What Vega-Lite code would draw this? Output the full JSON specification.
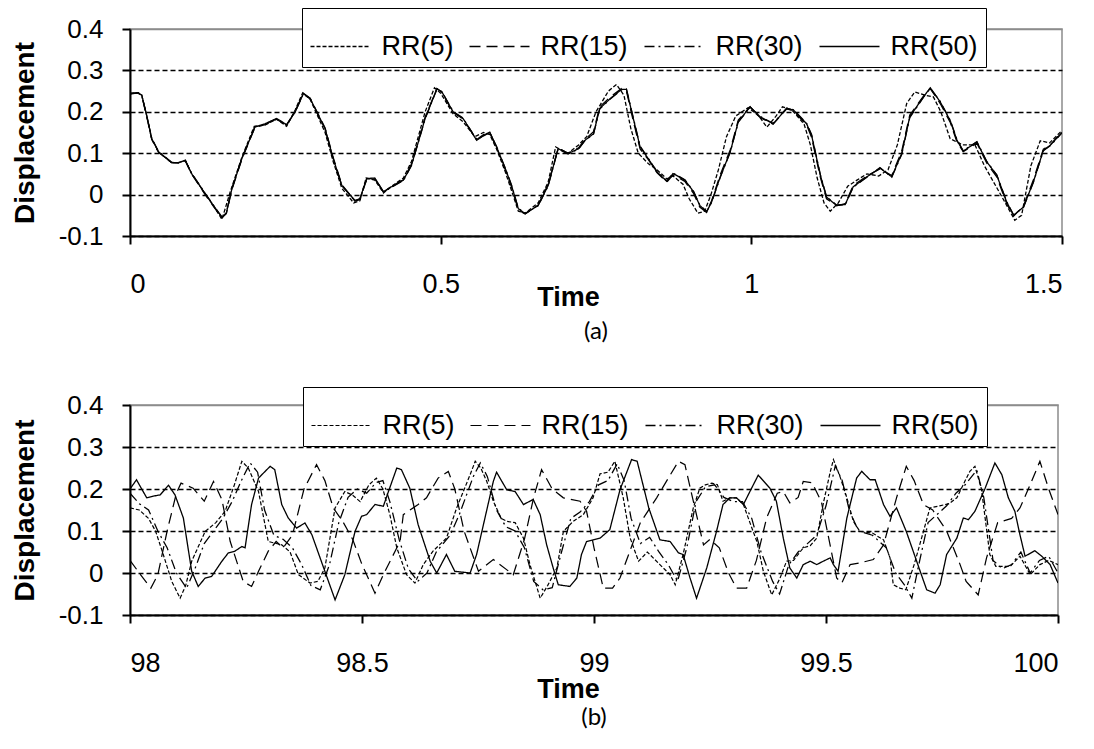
{
"$schema": "https://vega.github.io/schema/vega-lite/v6.json",
"background": "white",
"padding": {"left": 10, "top": 6, "right": 5, "bottom": 5},
"config": {
  "font": "Liberation Sans",
  "view": {"stroke": "#8c8c8c", "strokeWidth": 1.5},
  "axis": {"domainColor": "black", "domainWidth": 2, "tickColor": "black", "tickWidth": 2, "tickSize": 8, "labelColor": "black", "titleColor": "black", "labelFont": "Liberation Sans", "titleFont": "Liberation Sans", "labelFontSize": 26, "titleFontWeight": "bold"},
  "axisX": {"grid": false, "labelPadding": 27, "labelFontSize": 27, "titleFontSize": 27},
  "axisY": {"labelPadding": 19, "titlePadding": 19, "titleFontSize": 28},
  "legend": {"title": null, "direction": "horizontal", "fillColor": "white", "strokeColor": "black", "padding": 7.5, "symbolType": "stroke", "symbolSize": 3600, "symbolStrokeWidth": 1.3, "symbolStrokeColor": "black", "labelFont": "Liberation Sans", "labelFontSize": 27, "labelColor": "black", "labelOffset": 10, "columnPadding": 13},
  "title": {"font": "Lato", "fontSize": 24, "fontWeight": "normal", "color": "black", "anchor": "middle"}
},
"spacing": 40,
"resolve": {"scale": {"strokeDash": "independent", "strokeWidth": "independent"}, "legend": {"strokeDash": "independent"}},
"vconcat": [
{
  "width": 932, "height": 207,
  "title": {"text": "(a)", "orient": "bottom", "offset": 10},
  "mark": {"type": "line", "clip": true, "color": "black"},
  "data": {"values": [
{"s":"RR(5)","t":0,"y":0.244},{"s":"RR(5)","t":0.013,"y":0.246},{"s":"RR(5)","t":0.019,"y":0.24},{"s":"RR(5)","t":0.027,"y":0.19},{"s":"RR(5)","t":0.035,"y":0.135},{"s":"RR(5)","t":0.046,"y":0.103},{"s":"RR(5)","t":0.067,"y":0.077},{"s":"RR(5)","t":0.078,"y":0.077},{"s":"RR(5)","t":0.089,"y":0.083},{"s":"RR(5)","t":0.099,"y":0.051},{"s":"RR(5)","t":0.121,"y":0.002},{"s":"RR(5)","t":0.134,"y":-0.026},{"s":"RR(5)","t":0.148,"y":-0.06},{"s":"RR(5)","t":0.162,"y":0.01},{"s":"RR(5)","t":0.18,"y":0.09},{"s":"RR(5)","t":0.2,"y":0.165},{"s":"RR(5)","t":0.217,"y":0.168},{"s":"RR(5)","t":0.236,"y":0.182},{"s":"RR(5)","t":0.252,"y":0.165},{"s":"RR(5)","t":0.266,"y":0.205},{"s":"RR(5)","t":0.278,"y":0.246},{"s":"RR(5)","t":0.29,"y":0.23},{"s":"RR(5)","t":0.314,"y":0.15},{"s":"RR(5)","t":0.327,"y":0.08},{"s":"RR(5)","t":0.341,"y":0.015},{"s":"RR(5)","t":0.36,"y":-0.02},{"s":"RR(5)","t":0.37,"y":-0.015},{"s":"RR(5)","t":0.38,"y":0.04},{"s":"RR(5)","t":0.394,"y":0.035},{"s":"RR(5)","t":0.408,"y":0.004},{"s":"RR(5)","t":0.421,"y":0.02},{"s":"RR(5)","t":0.44,"y":0.04},{"s":"RR(5)","t":0.453,"y":0.08},{"s":"RR(5)","t":0.464,"y":0.14},{"s":"RR(5)","t":0.475,"y":0.2},{"s":"RR(5)","t":0.49,"y":0.258},{"s":"RR(5)","t":0.5,"y":0.245},{"s":"RR(5)","t":0.52,"y":0.195},{"s":"RR(5)","t":0.536,"y":0.176},{"s":"RR(5)","t":0.555,"y":0.14},{"s":"RR(5)","t":0.569,"y":0.15},{"s":"RR(5)","t":0.579,"y":0.145},{"s":"RR(5)","t":0.59,"y":0.11},{"s":"RR(5)","t":0.604,"y":0.055},{"s":"RR(5)","t":0.614,"y":0.01},{"s":"RR(5)","t":0.625,"y":-0.04},{"s":"RR(5)","t":0.636,"y":-0.045},{"s":"RR(5)","t":0.657,"y":-0.02},{"s":"RR(5)","t":0.673,"y":0.03},{"s":"RR(5)","t":0.685,"y":0.115},{"s":"RR(5)","t":0.705,"y":0.1},{"s":"RR(5)","t":0.722,"y":0.12},{"s":"RR(5)","t":0.735,"y":0.14},{"s":"RR(5)","t":0.75,"y":0.2},{"s":"RR(5)","t":0.77,"y":0.25},{"s":"RR(5)","t":0.783,"y":0.266},{"s":"RR(5)","t":0.795,"y":0.24},{"s":"RR(5)","t":0.806,"y":0.16},{"s":"RR(5)","t":0.818,"y":0.1},{"s":"RR(5)","t":0.834,"y":0.075},{"s":"RR(5)","t":0.848,"y":0.06},{"s":"RR(5)","t":0.864,"y":0.038},{"s":"RR(5)","t":0.874,"y":0.045},{"s":"RR(5)","t":0.89,"y":0.025},{"s":"RR(5)","t":0.9,"y":-0.01},{"s":"RR(5)","t":0.914,"y":-0.045},{"s":"RR(5)","t":0.925,"y":-0.04},{"s":"RR(5)","t":0.935,"y":0.0},{"s":"RR(5)","t":0.947,"y":0.06},{"s":"RR(5)","t":0.96,"y":0.14},{"s":"RR(5)","t":0.975,"y":0.19},{"s":"RR(5)","t":0.995,"y":0.21},{"s":"RR(5)","t":1.012,"y":0.19},{"s":"RR(5)","t":1.025,"y":0.163},{"s":"RR(5)","t":1.04,"y":0.19},{"s":"RR(5)","t":1.05,"y":0.212},{"s":"RR(5)","t":1.065,"y":0.205},{"s":"RR(5)","t":1.085,"y":0.17},{"s":"RR(5)","t":1.095,"y":0.12},{"s":"RR(5)","t":1.106,"y":0.04},{"s":"RR(5)","t":1.117,"y":-0.02},{"s":"RR(5)","t":1.127,"y":-0.04},{"s":"RR(5)","t":1.14,"y":-0.02},{"s":"RR(5)","t":1.155,"y":0.02},{"s":"RR(5)","t":1.17,"y":0.035},{"s":"RR(5)","t":1.186,"y":0.05},{"s":"RR(5)","t":1.205,"y":0.045},{"s":"RR(5)","t":1.22,"y":0.06},{"s":"RR(5)","t":1.235,"y":0.12},{"s":"RR(5)","t":1.25,"y":0.22},{"s":"RR(5)","t":1.263,"y":0.248},{"s":"RR(5)","t":1.28,"y":0.24},{"s":"RR(5)","t":1.293,"y":0.236},{"s":"RR(5)","t":1.305,"y":0.2},{"s":"RR(5)","t":1.32,"y":0.135},{"s":"RR(5)","t":1.34,"y":0.12},{"s":"RR(5)","t":1.36,"y":0.12},{"s":"RR(5)","t":1.375,"y":0.07},{"s":"RR(5)","t":1.39,"y":0.03},{"s":"RR(5)","t":1.405,"y":-0.01},{"s":"RR(5)","t":1.424,"y":-0.062},{"s":"RR(5)","t":1.435,"y":-0.05},{"s":"RR(5)","t":1.45,"y":0.07},{"s":"RR(5)","t":1.465,"y":0.13},{"s":"RR(5)","t":1.48,"y":0.125},{"s":"RR(5)","t":1.5,"y":0.155},
{"s":"RR(15)","t":0,"y":0.243},{"s":"RR(15)","t":0.013,"y":0.246},{"s":"RR(15)","t":0.019,"y":0.238},{"s":"RR(15)","t":0.027,"y":0.188},{"s":"RR(15)","t":0.035,"y":0.133},{"s":"RR(15)","t":0.046,"y":0.102},{"s":"RR(15)","t":0.067,"y":0.077},{"s":"RR(15)","t":0.078,"y":0.076},{"s":"RR(15)","t":0.089,"y":0.082},{"s":"RR(15)","t":0.099,"y":0.05},{"s":"RR(15)","t":0.121,"y":0.0},{"s":"RR(15)","t":0.134,"y":-0.028},{"s":"RR(15)","t":0.148,"y":-0.056},{"s":"RR(15)","t":0.155,"y":-0.046},{"s":"RR(15)","t":0.164,"y":0.012},{"s":"RR(15)","t":0.18,"y":0.085},{"s":"RR(15)","t":0.201,"y":0.162},{"s":"RR(15)","t":0.217,"y":0.169},{"s":"RR(15)","t":0.236,"y":0.182},{"s":"RR(15)","t":0.252,"y":0.167},{"s":"RR(15)","t":0.266,"y":0.202},{"s":"RR(15)","t":0.279,"y":0.245},{"s":"RR(15)","t":0.29,"y":0.233},{"s":"RR(15)","t":0.314,"y":0.161},{"s":"RR(15)","t":0.327,"y":0.09},{"s":"RR(15)","t":0.341,"y":0.024},{"s":"RR(15)","t":0.362,"y":-0.016},{"s":"RR(15)","t":0.37,"y":-0.012},{"s":"RR(15)","t":0.381,"y":0.037},{"s":"RR(15)","t":0.394,"y":0.038},{"s":"RR(15)","t":0.408,"y":0.006},{"s":"RR(15)","t":0.421,"y":0.02},{"s":"RR(15)","t":0.44,"y":0.036},{"s":"RR(15)","t":0.453,"y":0.074},{"s":"RR(15)","t":0.464,"y":0.13},{"s":"RR(15)","t":0.475,"y":0.187},{"s":"RR(15)","t":0.494,"y":0.256},{"s":"RR(15)","t":0.502,"y":0.247},{"s":"RR(15)","t":0.52,"y":0.198},{"s":"RR(15)","t":0.536,"y":0.183},{"s":"RR(15)","t":0.558,"y":0.133},{"s":"RR(15)","t":0.569,"y":0.145},{"s":"RR(15)","t":0.579,"y":0.15},{"s":"RR(15)","t":0.59,"y":0.113},{"s":"RR(15)","t":0.604,"y":0.06},{"s":"RR(15)","t":0.614,"y":0.018},{"s":"RR(15)","t":0.625,"y":-0.037},{"s":"RR(15)","t":0.636,"y":-0.047},{"s":"RR(15)","t":0.657,"y":-0.025},{"s":"RR(15)","t":0.673,"y":0.025},{"s":"RR(15)","t":0.689,"y":0.112},{"s":"RR(15)","t":0.705,"y":0.1},{"s":"RR(15)","t":0.722,"y":0.113},{"s":"RR(15)","t":0.732,"y":0.133},{"s":"RR(15)","t":0.746,"y":0.152},{"s":"RR(15)","t":0.756,"y":0.212},{"s":"RR(15)","t":0.773,"y":0.236},{"s":"RR(15)","t":0.791,"y":0.256},{"s":"RR(15)","t":0.799,"y":0.25},{"s":"RR(15)","t":0.81,"y":0.178},{"s":"RR(15)","t":0.821,"y":0.11},{"s":"RR(15)","t":0.834,"y":0.085},{"s":"RR(15)","t":0.848,"y":0.053},{"s":"RR(15)","t":0.864,"y":0.03},{"s":"RR(15)","t":0.874,"y":0.048},{"s":"RR(15)","t":0.893,"y":0.032},{"s":"RR(15)","t":0.907,"y":0.003},{"s":"RR(15)","t":0.917,"y":-0.03},{"s":"RR(15)","t":0.928,"y":-0.043},{"s":"RR(15)","t":0.936,"y":-0.015},{"s":"RR(15)","t":0.95,"y":0.048},{"s":"RR(15)","t":0.966,"y":0.108},{"s":"RR(15)","t":0.979,"y":0.18},{"s":"RR(15)","t":0.998,"y":0.212},{"s":"RR(15)","t":1.014,"y":0.186},{"s":"RR(15)","t":1.035,"y":0.17},{"s":"RR(15)","t":1.057,"y":0.207},{"s":"RR(15)","t":1.068,"y":0.202},{"s":"RR(15)","t":1.089,"y":0.168},{"s":"RR(15)","t":1.097,"y":0.138},{"s":"RR(15)","t":1.111,"y":0.042},{"s":"RR(15)","t":1.121,"y":-0.01},{"s":"RR(15)","t":1.137,"y":-0.027},{"s":"RR(15)","t":1.151,"y":-0.022},{"s":"RR(15)","t":1.164,"y":0.022},{"s":"RR(15)","t":1.186,"y":0.045},{"s":"RR(15)","t":1.207,"y":0.062},{"s":"RR(15)","t":1.226,"y":0.046},{"s":"RR(15)","t":1.242,"y":0.105},{"s":"RR(15)","t":1.255,"y":0.192},{"s":"RR(15)","t":1.277,"y":0.238},{"s":"RR(15)","t":1.288,"y":0.256},{"s":"RR(15)","t":1.304,"y":0.22},{"s":"RR(15)","t":1.32,"y":0.175},{"s":"RR(15)","t":1.331,"y":0.127},{"s":"RR(15)","t":1.341,"y":0.104},{"s":"RR(15)","t":1.363,"y":0.124},{"s":"RR(15)","t":1.379,"y":0.076},{"s":"RR(15)","t":1.395,"y":0.043},{"s":"RR(15)","t":1.411,"y":-0.022},{"s":"RR(15)","t":1.422,"y":-0.052},{"s":"RR(15)","t":1.438,"y":-0.028},{"s":"RR(15)","t":1.454,"y":0.036},{"s":"RR(15)","t":1.47,"y":0.11},{"s":"RR(15)","t":1.481,"y":0.12},{"s":"RR(15)","t":1.5,"y":0.152},
{"s":"RR(30)","t":0,"y":0.245},{"s":"RR(30)","t":0.013,"y":0.245},{"s":"RR(30)","t":0.019,"y":0.239},{"s":"RR(30)","t":0.027,"y":0.19},{"s":"RR(30)","t":0.035,"y":0.136},{"s":"RR(30)","t":0.046,"y":0.104},{"s":"RR(30)","t":0.067,"y":0.078},{"s":"RR(30)","t":0.078,"y":0.077},{"s":"RR(30)","t":0.089,"y":0.082},{"s":"RR(30)","t":0.099,"y":0.052},{"s":"RR(30)","t":0.121,"y":0.003},{"s":"RR(30)","t":0.134,"y":-0.025},{"s":"RR(30)","t":0.148,"y":-0.055},{"s":"RR(30)","t":0.155,"y":-0.044},{"s":"RR(30)","t":0.164,"y":0.015},{"s":"RR(30)","t":0.18,"y":0.088},{"s":"RR(30)","t":0.201,"y":0.164},{"s":"RR(30)","t":0.217,"y":0.17},{"s":"RR(30)","t":0.236,"y":0.183},{"s":"RR(30)","t":0.252,"y":0.168},{"s":"RR(30)","t":0.266,"y":0.201},{"s":"RR(30)","t":0.279,"y":0.243},{"s":"RR(30)","t":0.29,"y":0.231},{"s":"RR(30)","t":0.314,"y":0.158},{"s":"RR(30)","t":0.327,"y":0.086},{"s":"RR(30)","t":0.341,"y":0.021},{"s":"RR(30)","t":0.362,"y":-0.015},{"s":"RR(30)","t":0.37,"y":-0.011},{"s":"RR(30)","t":0.381,"y":0.038},{"s":"RR(30)","t":0.394,"y":0.039},{"s":"RR(30)","t":0.408,"y":0.006},{"s":"RR(30)","t":0.421,"y":0.018},{"s":"RR(30)","t":0.44,"y":0.034},{"s":"RR(30)","t":0.453,"y":0.07},{"s":"RR(30)","t":0.464,"y":0.126},{"s":"RR(30)","t":0.475,"y":0.183},{"s":"RR(30)","t":0.494,"y":0.255},{"s":"RR(30)","t":0.502,"y":0.249},{"s":"RR(30)","t":0.52,"y":0.201},{"s":"RR(30)","t":0.536,"y":0.185},{"s":"RR(30)","t":0.558,"y":0.132},{"s":"RR(30)","t":0.569,"y":0.142},{"s":"RR(30)","t":0.579,"y":0.15},{"s":"RR(30)","t":0.59,"y":0.116},{"s":"RR(30)","t":0.604,"y":0.064},{"s":"RR(30)","t":0.614,"y":0.023},{"s":"RR(30)","t":0.625,"y":-0.033},{"s":"RR(30)","t":0.636,"y":-0.045},{"s":"RR(30)","t":0.657,"y":-0.027},{"s":"RR(30)","t":0.673,"y":0.021},{"s":"RR(30)","t":0.689,"y":0.11},{"s":"RR(30)","t":0.705,"y":0.098},{"s":"RR(30)","t":0.722,"y":0.11},{"s":"RR(30)","t":0.732,"y":0.13},{"s":"RR(30)","t":0.746,"y":0.146},{"s":"RR(30)","t":0.756,"y":0.207},{"s":"RR(30)","t":0.773,"y":0.231},{"s":"RR(30)","t":0.791,"y":0.253},{"s":"RR(30)","t":0.799,"y":0.255},{"s":"RR(30)","t":0.81,"y":0.186},{"s":"RR(30)","t":0.821,"y":0.117},{"s":"RR(30)","t":0.834,"y":0.088},{"s":"RR(30)","t":0.848,"y":0.056},{"s":"RR(30)","t":0.864,"y":0.033},{"s":"RR(30)","t":0.874,"y":0.052},{"s":"RR(30)","t":0.893,"y":0.036},{"s":"RR(30)","t":0.907,"y":0.008},{"s":"RR(30)","t":0.917,"y":-0.025},{"s":"RR(30)","t":0.928,"y":-0.041},{"s":"RR(30)","t":0.936,"y":-0.019},{"s":"RR(30)","t":0.95,"y":0.042},{"s":"RR(30)","t":0.966,"y":0.102},{"s":"RR(30)","t":0.979,"y":0.175},{"s":"RR(30)","t":0.998,"y":0.211},{"s":"RR(30)","t":1.014,"y":0.189},{"s":"RR(30)","t":1.035,"y":0.172},{"s":"RR(30)","t":1.057,"y":0.209},{"s":"RR(30)","t":1.068,"y":0.205},{"s":"RR(30)","t":1.089,"y":0.172},{"s":"RR(30)","t":1.097,"y":0.145},{"s":"RR(30)","t":1.111,"y":0.049},{"s":"RR(30)","t":1.121,"y":-0.005},{"s":"RR(30)","t":1.137,"y":-0.025},{"s":"RR(30)","t":1.151,"y":-0.025},{"s":"RR(30)","t":1.164,"y":0.018},{"s":"RR(30)","t":1.186,"y":0.042},{"s":"RR(30)","t":1.207,"y":0.065},{"s":"RR(30)","t":1.226,"y":0.042},{"s":"RR(30)","t":1.242,"y":0.097},{"s":"RR(30)","t":1.255,"y":0.186},{"s":"RR(30)","t":1.277,"y":0.235},{"s":"RR(30)","t":1.288,"y":0.257},{"s":"RR(30)","t":1.304,"y":0.225},{"s":"RR(30)","t":1.32,"y":0.18},{"s":"RR(30)","t":1.331,"y":0.133},{"s":"RR(30)","t":1.341,"y":0.106},{"s":"RR(30)","t":1.363,"y":0.128},{"s":"RR(30)","t":1.379,"y":0.08},{"s":"RR(30)","t":1.395,"y":0.048},{"s":"RR(30)","t":1.411,"y":-0.017},{"s":"RR(30)","t":1.422,"y":-0.049},{"s":"RR(30)","t":1.438,"y":-0.031},{"s":"RR(30)","t":1.454,"y":0.03},{"s":"RR(30)","t":1.47,"y":0.106},{"s":"RR(30)","t":1.481,"y":0.118},{"s":"RR(30)","t":1.5,"y":0.149},
{"s":"RR(50)","t":0,"y":0.244},{"s":"RR(50)","t":0.013,"y":0.246},{"s":"RR(50)","t":0.019,"y":0.24},{"s":"RR(50)","t":0.027,"y":0.19},{"s":"RR(50)","t":0.035,"y":0.135},{"s":"RR(50)","t":0.046,"y":0.103},{"s":"RR(50)","t":0.067,"y":0.077},{"s":"RR(50)","t":0.078,"y":0.077},{"s":"RR(50)","t":0.089,"y":0.083},{"s":"RR(50)","t":0.099,"y":0.051},{"s":"RR(50)","t":0.121,"y":0.002},{"s":"RR(50)","t":0.134,"y":-0.026},{"s":"RR(50)","t":0.148,"y":-0.054},{"s":"RR(50)","t":0.155,"y":-0.045},{"s":"RR(50)","t":0.164,"y":0.014},{"s":"RR(50)","t":0.18,"y":0.087},{"s":"RR(50)","t":0.201,"y":0.163},{"s":"RR(50)","t":0.217,"y":0.171},{"s":"RR(50)","t":0.236,"y":0.184},{"s":"RR(50)","t":0.252,"y":0.169},{"s":"RR(50)","t":0.266,"y":0.2},{"s":"RR(50)","t":0.279,"y":0.244},{"s":"RR(50)","t":0.29,"y":0.232},{"s":"RR(50)","t":0.314,"y":0.159},{"s":"RR(50)","t":0.327,"y":0.087},{"s":"RR(50)","t":0.341,"y":0.022},{"s":"RR(50)","t":0.362,"y":-0.014},{"s":"RR(50)","t":0.37,"y":-0.01},{"s":"RR(50)","t":0.381,"y":0.039},{"s":"RR(50)","t":0.394,"y":0.04},{"s":"RR(50)","t":0.408,"y":0.007},{"s":"RR(50)","t":0.421,"y":0.019},{"s":"RR(50)","t":0.44,"y":0.035},{"s":"RR(50)","t":0.453,"y":0.071},{"s":"RR(50)","t":0.464,"y":0.127},{"s":"RR(50)","t":0.475,"y":0.184},{"s":"RR(50)","t":0.494,"y":0.256},{"s":"RR(50)","t":0.502,"y":0.248},{"s":"RR(50)","t":0.52,"y":0.2},{"s":"RR(50)","t":0.536,"y":0.184},{"s":"RR(50)","t":0.558,"y":0.131},{"s":"RR(50)","t":0.569,"y":0.143},{"s":"RR(50)","t":0.579,"y":0.151},{"s":"RR(50)","t":0.59,"y":0.115},{"s":"RR(50)","t":0.604,"y":0.063},{"s":"RR(50)","t":0.614,"y":0.022},{"s":"RR(50)","t":0.625,"y":-0.034},{"s":"RR(50)","t":0.636,"y":-0.046},{"s":"RR(50)","t":0.657,"y":-0.026},{"s":"RR(50)","t":0.673,"y":0.022},{"s":"RR(50)","t":0.689,"y":0.111},{"s":"RR(50)","t":0.705,"y":0.099},{"s":"RR(50)","t":0.722,"y":0.111},{"s":"RR(50)","t":0.732,"y":0.131},{"s":"RR(50)","t":0.746,"y":0.147},{"s":"RR(50)","t":0.756,"y":0.208},{"s":"RR(50)","t":0.773,"y":0.232},{"s":"RR(50)","t":0.791,"y":0.254},{"s":"RR(50)","t":0.799,"y":0.254},{"s":"RR(50)","t":0.81,"y":0.184},{"s":"RR(50)","t":0.821,"y":0.115},{"s":"RR(50)","t":0.834,"y":0.087},{"s":"RR(50)","t":0.848,"y":0.055},{"s":"RR(50)","t":0.864,"y":0.032},{"s":"RR(50)","t":0.874,"y":0.051},{"s":"RR(50)","t":0.893,"y":0.035},{"s":"RR(50)","t":0.907,"y":0.007},{"s":"RR(50)","t":0.917,"y":-0.026},{"s":"RR(50)","t":0.928,"y":-0.042},{"s":"RR(50)","t":0.936,"y":-0.018},{"s":"RR(50)","t":0.95,"y":0.043},{"s":"RR(50)","t":0.966,"y":0.103},{"s":"RR(50)","t":0.979,"y":0.176},{"s":"RR(50)","t":0.998,"y":0.212},{"s":"RR(50)","t":1.014,"y":0.188},{"s":"RR(50)","t":1.035,"y":0.171},{"s":"RR(50)","t":1.057,"y":0.208},{"s":"RR(50)","t":1.068,"y":0.204},{"s":"RR(50)","t":1.089,"y":0.171},{"s":"RR(50)","t":1.097,"y":0.143},{"s":"RR(50)","t":1.111,"y":0.047},{"s":"RR(50)","t":1.121,"y":-0.006},{"s":"RR(50)","t":1.137,"y":-0.026},{"s":"RR(50)","t":1.151,"y":-0.024},{"s":"RR(50)","t":1.164,"y":0.019},{"s":"RR(50)","t":1.186,"y":0.043},{"s":"RR(50)","t":1.207,"y":0.064},{"s":"RR(50)","t":1.226,"y":0.043},{"s":"RR(50)","t":1.242,"y":0.099},{"s":"RR(50)","t":1.255,"y":0.188},{"s":"RR(50)","t":1.277,"y":0.236},{"s":"RR(50)","t":1.288,"y":0.258},{"s":"RR(50)","t":1.304,"y":0.224},{"s":"RR(50)","t":1.32,"y":0.179},{"s":"RR(50)","t":1.331,"y":0.131},{"s":"RR(50)","t":1.341,"y":0.105},{"s":"RR(50)","t":1.363,"y":0.127},{"s":"RR(50)","t":1.379,"y":0.079},{"s":"RR(50)","t":1.395,"y":0.047},{"s":"RR(50)","t":1.411,"y":-0.018},{"s":"RR(50)","t":1.422,"y":-0.05},{"s":"RR(50)","t":1.438,"y":-0.03},{"s":"RR(50)","t":1.454,"y":0.031},{"s":"RR(50)","t":1.47,"y":0.107},{"s":"RR(50)","t":1.481,"y":0.119},{"s":"RR(50)","t":1.5,"y":0.15}
  ]},
  "encoding": {
    "x": {"field": "t", "type": "quantitative", "scale": {"domain": [0, 1.5], "nice": false, "zero": false}, "axis": {"values": [0, 0.5, 1, 1.5], "format": "~g", "title": "Time", "titleX": 438, "titlePadding": -13}},
    "y": {"field": "y", "type": "quantitative", "scale": {"domain": [-0.1, 0.4], "nice": false}, "axis": {"values": [-0.1, 0, 0.1, 0.2, 0.3, 0.4], "labelExpr": "datum.value < 0 ? '-' + format(-datum.value, '~g') : format(datum.value, '~g')", "title": "Displacement", "grid": true, "gridWidth": 1.3, "gridColor": {"condition": {"test": "datum.value > 0.35", "value": "#8c8c8c"}, "value": "black"}, "gridDash": {"condition": {"test": "datum.value > 0.35", "value": [1, 0]}, "value": [5, 3]}}},
    "strokeDash": {"field": "s", "type": "nominal", "scale": {"domain": ["RR(5)", "RR(15)", "RR(30)", "RR(50)"], "range": [[4, 2], [11, 6], [10, 4, 2, 4], [1, 0]]}, "legend": {"orient": "none", "legendX": 172, "legendY": -21}},
    "strokeWidth": {"field": "s", "type": "nominal", "scale": {"domain": ["RR(5)", "RR(15)", "RR(30)", "RR(50)"], "range": [1.3, 1.3, 1.3, 2.4]}, "legend": null}
  }
},
{
  "width": 928, "height": 210,
  "title": {"text": "(b)", "orient": "bottom", "offset": 4},
  "mark": {"type": "line", "clip": true, "color": "black"},
  "data": {"values": [
{"s":"RR(5)","t":98.0,"y":0.155},{"s":"RR(5)","t":98.02,"y":0.15},{"s":"RR(5)","t":98.04,"y":0.13},{"s":"RR(5)","t":98.055,"y":0.1},{"s":"RR(5)","t":98.07,"y":0.05},{"s":"RR(5)","t":98.09,"y":-0.02},{"s":"RR(5)","t":98.108,"y":-0.06},{"s":"RR(5)","t":98.12,"y":-0.03},{"s":"RR(5)","t":98.133,"y":0.028},{"s":"RR(5)","t":98.162,"y":0.099},{"s":"RR(5)","t":98.185,"y":0.12},{"s":"RR(5)","t":98.205,"y":0.147},{"s":"RR(5)","t":98.225,"y":0.21},{"s":"RR(5)","t":98.241,"y":0.266},{"s":"RR(5)","t":98.255,"y":0.25},{"s":"RR(5)","t":98.277,"y":0.194},{"s":"RR(5)","t":98.298,"y":0.075},{"s":"RR(5)","t":98.327,"y":0.067},{"s":"RR(5)","t":98.345,"y":0.05},{"s":"RR(5)","t":98.363,"y":-0.004},{"s":"RR(5)","t":98.388,"y":-0.024},{"s":"RR(5)","t":98.405,"y":-0.02},{"s":"RR(5)","t":98.42,"y":0.012},{"s":"RR(5)","t":98.442,"y":0.155},{"s":"RR(5)","t":98.463,"y":0.194},{"s":"RR(5)","t":98.48,"y":0.185},{"s":"RR(5)","t":98.496,"y":0.17},{"s":"RR(5)","t":98.515,"y":0.21},{"s":"RR(5)","t":98.531,"y":0.226},{"s":"RR(5)","t":98.545,"y":0.2},{"s":"RR(5)","t":98.56,"y":0.139},{"s":"RR(5)","t":98.575,"y":0.06},{"s":"RR(5)","t":98.596,"y":-0.004},{"s":"RR(5)","t":98.614,"y":-0.024},{"s":"RR(5)","t":98.632,"y":0.02},{"s":"RR(5)","t":98.653,"y":0.052},{"s":"RR(5)","t":98.682,"y":0.083},{"s":"RR(5)","t":98.704,"y":0.155},{"s":"RR(5)","t":98.733,"y":0.234},{"s":"RR(5)","t":98.744,"y":0.266},{"s":"RR(5)","t":98.756,"y":0.25},{"s":"RR(5)","t":98.769,"y":0.218},{"s":"RR(5)","t":98.783,"y":0.171},{"s":"RR(5)","t":98.8,"y":0.13},{"s":"RR(5)","t":98.812,"y":0.123},{"s":"RR(5)","t":98.83,"y":0.12},{"s":"RR(5)","t":98.848,"y":0.083},{"s":"RR(5)","t":98.862,"y":0.02},{"s":"RR(5)","t":98.884,"y":-0.06},{"s":"RR(5)","t":98.9,"y":-0.03},{"s":"RR(5)","t":98.92,"y":0.012},{"s":"RR(5)","t":98.934,"y":0.099},{"s":"RR(5)","t":98.955,"y":0.123},{"s":"RR(5)","t":98.977,"y":0.139},{"s":"RR(5)","t":98.998,"y":0.179},{"s":"RR(5)","t":99.013,"y":0.236},{"s":"RR(5)","t":99.03,"y":0.24},{"s":"RR(5)","t":99.045,"y":0.266},{"s":"RR(5)","t":99.063,"y":0.179},{"s":"RR(5)","t":99.078,"y":0.083},{"s":"RR(5)","t":99.096,"y":0.028},{"s":"RR(5)","t":99.115,"y":0.05},{"s":"RR(5)","t":99.142,"y":0.02},{"s":"RR(5)","t":99.164,"y":-0.004},{"s":"RR(5)","t":99.175,"y":-0.028},{"s":"RR(5)","t":99.192,"y":0.044},{"s":"RR(5)","t":99.214,"y":0.155},{"s":"RR(5)","t":99.228,"y":0.202},{"s":"RR(5)","t":99.24,"y":0.21},{"s":"RR(5)","t":99.254,"y":0.214},{"s":"RR(5)","t":99.266,"y":0.21},{"s":"RR(5)","t":99.278,"y":0.171},{"s":"RR(5)","t":99.293,"y":0.179},{"s":"RR(5)","t":99.307,"y":0.179},{"s":"RR(5)","t":99.322,"y":0.163},{"s":"RR(5)","t":99.336,"y":0.12},{"s":"RR(5)","t":99.351,"y":0.075},{"s":"RR(5)","t":99.365,"y":0.004},{"s":"RR(5)","t":99.383,"y":-0.052},{"s":"RR(5)","t":99.401,"y":-0.012},{"s":"RR(5)","t":99.415,"y":0.028},{"s":"RR(5)","t":99.43,"y":0.03},{"s":"RR(5)","t":99.451,"y":0.06},{"s":"RR(5)","t":99.466,"y":0.065},{"s":"RR(5)","t":99.48,"y":0.083},{"s":"RR(5)","t":99.495,"y":0.17},{"s":"RR(5)","t":99.509,"y":0.24},{"s":"RR(5)","t":99.516,"y":0.27},{"s":"RR(5)","t":99.53,"y":0.23},{"s":"RR(5)","t":99.545,"y":0.179},{"s":"RR(5)","t":99.559,"y":0.123},{"s":"RR(5)","t":99.573,"y":0.099},{"s":"RR(5)","t":99.6,"y":0.095},{"s":"RR(5)","t":99.624,"y":0.079},{"s":"RR(5)","t":99.638,"y":0.036},{"s":"RR(5)","t":99.645,"y":-0.028},{"s":"RR(5)","t":99.659,"y":-0.036},{"s":"RR(5)","t":99.672,"y":-0.04},{"s":"RR(5)","t":99.69,"y":0.02},{"s":"RR(5)","t":99.71,"y":0.099},{"s":"RR(5)","t":99.724,"y":0.155},{"s":"RR(5)","t":99.745,"y":0.16},{"s":"RR(5)","t":99.765,"y":0.165},{"s":"RR(5)","t":99.782,"y":0.179},{"s":"RR(5)","t":99.8,"y":0.22},{"s":"RR(5)","t":99.81,"y":0.242},{"s":"RR(5)","t":99.821,"y":0.254},{"s":"RR(5)","t":99.835,"y":0.2},{"s":"RR(5)","t":99.853,"y":0.044},{"s":"RR(5)","t":99.866,"y":0.016},{"s":"RR(5)","t":99.897,"y":0.016},{"s":"RR(5)","t":99.918,"y":0.04},{"s":"RR(5)","t":99.94,"y":-0.004},{"s":"RR(5)","t":99.961,"y":0.02},{"s":"RR(5)","t":99.98,"y":0.03},{"s":"RR(5)","t":100.0,"y":0.02},
{"s":"RR(15)","t":98.0,"y":0.03},{"s":"RR(15)","t":98.02,"y":0.0},{"s":"RR(15)","t":98.045,"y":-0.036},{"s":"RR(15)","t":98.06,"y":-0.004},{"s":"RR(15)","t":98.08,"y":0.1},{"s":"RR(15)","t":98.1,"y":0.19},{"s":"RR(15)","t":98.11,"y":0.214},{"s":"RR(15)","t":98.136,"y":0.202},{"s":"RR(15)","t":98.16,"y":0.171},{"s":"RR(15)","t":98.18,"y":0.218},{"s":"RR(15)","t":98.198,"y":0.175},{"s":"RR(15)","t":98.216,"y":0.075},{"s":"RR(15)","t":98.244,"y":-0.02},{"s":"RR(15)","t":98.262,"y":-0.032},{"s":"RR(15)","t":98.277,"y":0.004},{"s":"RR(15)","t":98.298,"y":0.052},{"s":"RR(15)","t":98.315,"y":0.075},{"s":"RR(15)","t":98.33,"y":0.06},{"s":"RR(15)","t":98.35,"y":0.09},{"s":"RR(15)","t":98.375,"y":0.2},{"s":"RR(15)","t":98.402,"y":0.258},{"s":"RR(15)","t":98.42,"y":0.22},{"s":"RR(15)","t":98.438,"y":0.155},{"s":"RR(15)","t":98.46,"y":0.12},{"s":"RR(15)","t":98.48,"y":0.08},{"s":"RR(15)","t":98.5,"y":0.02},{"s":"RR(15)","t":98.528,"y":-0.048},{"s":"RR(15)","t":98.546,"y":-0.004},{"s":"RR(15)","t":98.566,"y":0.04},{"s":"RR(15)","t":98.582,"y":0.075},{"s":"RR(15)","t":98.589,"y":0.139},{"s":"RR(15)","t":98.621,"y":0.163},{"s":"RR(15)","t":98.639,"y":0.179},{"s":"RR(15)","t":98.664,"y":0.226},{"s":"RR(15)","t":98.686,"y":0.242},{"s":"RR(15)","t":98.7,"y":0.2},{"s":"RR(15)","t":98.72,"y":0.1},{"s":"RR(15)","t":98.751,"y":0.004},{"s":"RR(15)","t":98.783,"y":0.032},{"s":"RR(15)","t":98.826,"y":-0.004},{"s":"RR(15)","t":98.85,"y":0.08},{"s":"RR(15)","t":98.87,"y":0.18},{"s":"RR(15)","t":98.887,"y":0.246},{"s":"RR(15)","t":98.91,"y":0.2},{"s":"RR(15)","t":98.934,"y":0.179},{"s":"RR(15)","t":98.97,"y":0.171},{"s":"RR(15)","t":98.984,"y":0.147},{"s":"RR(15)","t":99.0,"y":0.06},{"s":"RR(15)","t":99.02,"y":-0.036},{"s":"RR(15)","t":99.04,"y":-0.036},{"s":"RR(15)","t":99.056,"y":-0.012},{"s":"RR(15)","t":99.08,"y":0.06},{"s":"RR(15)","t":99.1,"y":0.12},{"s":"RR(15)","t":99.135,"y":0.179},{"s":"RR(15)","t":99.156,"y":0.218},{"s":"RR(15)","t":99.182,"y":0.266},{"s":"RR(15)","t":99.196,"y":0.258},{"s":"RR(15)","t":99.21,"y":0.19},{"s":"RR(15)","t":99.236,"y":0.067},{"s":"RR(15)","t":99.25,"y":0.08},{"s":"RR(15)","t":99.27,"y":0.06},{"s":"RR(15)","t":99.29,"y":0.0},{"s":"RR(15)","t":99.307,"y":-0.036},{"s":"RR(15)","t":99.329,"y":-0.036},{"s":"RR(15)","t":99.35,"y":0.03},{"s":"RR(15)","t":99.372,"y":0.131},{"s":"RR(15)","t":99.395,"y":0.19},{"s":"RR(15)","t":99.408,"y":0.194},{"s":"RR(15)","t":99.422,"y":0.167},{"s":"RR(15)","t":99.44,"y":0.18},{"s":"RR(15)","t":99.451,"y":0.218},{"s":"RR(15)","t":99.47,"y":0.215},{"s":"RR(15)","t":99.49,"y":0.17},{"s":"RR(15)","t":99.51,"y":0.06},{"s":"RR(15)","t":99.523,"y":-0.012},{"s":"RR(15)","t":99.534,"y":-0.024},{"s":"RR(15)","t":99.552,"y":0.02},{"s":"RR(15)","t":99.573,"y":0.024},{"s":"RR(15)","t":99.602,"y":0.032},{"s":"RR(15)","t":99.624,"y":0.067},{"s":"RR(15)","t":99.652,"y":0.179},{"s":"RR(15)","t":99.673,"y":0.254},{"s":"RR(15)","t":99.69,"y":0.22},{"s":"RR(15)","t":99.71,"y":0.163},{"s":"RR(15)","t":99.73,"y":0.15},{"s":"RR(15)","t":99.76,"y":0.1},{"s":"RR(15)","t":99.789,"y":0.02},{"s":"RR(15)","t":99.802,"y":-0.02},{"s":"RR(15)","t":99.828,"y":-0.052},{"s":"RR(15)","t":99.846,"y":0.036},{"s":"RR(15)","t":99.87,"y":0.12},{"s":"RR(15)","t":99.9,"y":0.13},{"s":"RR(15)","t":99.918,"y":0.155},{"s":"RR(15)","t":99.94,"y":0.21},{"s":"RR(15)","t":99.961,"y":0.266},{"s":"RR(15)","t":99.98,"y":0.2},{"s":"RR(15)","t":100.0,"y":0.139},
{"s":"RR(30)","t":98.0,"y":0.19},{"s":"RR(30)","t":98.02,"y":0.165},{"s":"RR(30)","t":98.04,"y":0.15},{"s":"RR(30)","t":98.06,"y":0.1},{"s":"RR(30)","t":98.08,"y":0.06},{"s":"RR(30)","t":98.1,"y":0.0},{"s":"RR(30)","t":98.122,"y":-0.036},{"s":"RR(30)","t":98.14,"y":0.01},{"s":"RR(30)","t":98.16,"y":0.07},{"s":"RR(30)","t":98.18,"y":0.1},{"s":"RR(30)","t":98.2,"y":0.13},{"s":"RR(30)","t":98.22,"y":0.17},{"s":"RR(30)","t":98.24,"y":0.22},{"s":"RR(30)","t":98.259,"y":0.262},{"s":"RR(30)","t":98.275,"y":0.24},{"s":"RR(30)","t":98.29,"y":0.15},{"s":"RR(30)","t":98.31,"y":0.09},{"s":"RR(30)","t":98.33,"y":0.08},{"s":"RR(30)","t":98.35,"y":0.06},{"s":"RR(30)","t":98.37,"y":0.02},{"s":"RR(30)","t":98.39,"y":-0.03},{"s":"RR(30)","t":98.41,"y":-0.04},{"s":"RR(30)","t":98.43,"y":0.02},{"s":"RR(30)","t":98.45,"y":0.12},{"s":"RR(30)","t":98.47,"y":0.18},{"s":"RR(30)","t":98.49,"y":0.2},{"s":"RR(30)","t":98.51,"y":0.19},{"s":"RR(30)","t":98.53,"y":0.215},{"s":"RR(30)","t":98.545,"y":0.22},{"s":"RR(30)","t":98.56,"y":0.17},{"s":"RR(30)","t":98.58,"y":0.08},{"s":"RR(30)","t":98.6,"y":0.01},{"s":"RR(30)","t":98.62,"y":-0.02},{"s":"RR(30)","t":98.64,"y":0.0},{"s":"RR(30)","t":98.66,"y":0.05},{"s":"RR(30)","t":98.69,"y":0.09},{"s":"RR(30)","t":98.71,"y":0.14},{"s":"RR(30)","t":98.74,"y":0.23},{"s":"RR(30)","t":98.755,"y":0.262},{"s":"RR(30)","t":98.77,"y":0.23},{"s":"RR(30)","t":98.79,"y":0.15},{"s":"RR(30)","t":98.81,"y":0.11},{"s":"RR(30)","t":98.83,"y":0.1},{"s":"RR(30)","t":98.85,"y":0.06},{"s":"RR(30)","t":98.87,"y":-0.02},{"s":"RR(30)","t":98.89,"y":-0.04},{"s":"RR(30)","t":98.91,"y":-0.035},{"s":"RR(30)","t":98.93,"y":0.05},{"s":"RR(30)","t":98.95,"y":0.13},{"s":"RR(30)","t":98.97,"y":0.145},{"s":"RR(30)","t":98.99,"y":0.17},{"s":"RR(30)","t":99.01,"y":0.21},{"s":"RR(30)","t":99.03,"y":0.22},{"s":"RR(30)","t":99.05,"y":0.26},{"s":"RR(30)","t":99.065,"y":0.22},{"s":"RR(30)","t":99.08,"y":0.13},{"s":"RR(30)","t":99.1,"y":0.07},{"s":"RR(30)","t":99.12,"y":0.085},{"s":"RR(30)","t":99.14,"y":0.05},{"s":"RR(30)","t":99.16,"y":0.02},{"s":"RR(30)","t":99.18,"y":-0.02},{"s":"RR(30)","t":99.2,"y":0.06},{"s":"RR(30)","t":99.22,"y":0.17},{"s":"RR(30)","t":99.24,"y":0.205},{"s":"RR(30)","t":99.26,"y":0.21},{"s":"RR(30)","t":99.28,"y":0.18},{"s":"RR(30)","t":99.3,"y":0.17},{"s":"RR(30)","t":99.32,"y":0.17},{"s":"RR(30)","t":99.34,"y":0.13},{"s":"RR(30)","t":99.36,"y":0.05},{"s":"RR(30)","t":99.385,"y":-0.02},{"s":"RR(30)","t":99.4,"y":-0.05},{"s":"RR(30)","t":99.42,"y":0.02},{"s":"RR(30)","t":99.44,"y":0.05},{"s":"RR(30)","t":99.46,"y":0.07},{"s":"RR(30)","t":99.48,"y":0.09},{"s":"RR(30)","t":99.5,"y":0.16},{"s":"RR(30)","t":99.52,"y":0.255},{"s":"RR(30)","t":99.535,"y":0.22},{"s":"RR(30)","t":99.55,"y":0.15},{"s":"RR(30)","t":99.57,"y":0.1},{"s":"RR(30)","t":99.6,"y":0.09},{"s":"RR(30)","t":99.63,"y":0.06},{"s":"RR(30)","t":99.65,"y":0.0},{"s":"RR(30)","t":99.67,"y":-0.03},{"s":"RR(30)","t":99.685,"y":-0.06},{"s":"RR(30)","t":99.7,"y":0.02},{"s":"RR(30)","t":99.72,"y":0.12},{"s":"RR(30)","t":99.74,"y":0.14},{"s":"RR(30)","t":99.76,"y":0.16},{"s":"RR(30)","t":99.78,"y":0.19},{"s":"RR(30)","t":99.8,"y":0.21},{"s":"RR(30)","t":99.825,"y":0.245},{"s":"RR(30)","t":99.84,"y":0.18},{"s":"RR(30)","t":99.86,"y":0.03},{"s":"RR(30)","t":99.88,"y":0.01},{"s":"RR(30)","t":99.9,"y":0.02},{"s":"RR(30)","t":99.92,"y":0.05},{"s":"RR(30)","t":99.94,"y":0.0},{"s":"RR(30)","t":99.96,"y":0.03},{"s":"RR(30)","t":99.98,"y":0.04},{"s":"RR(30)","t":100.0,"y":0.0},
{"s":"RR(50)","t":98.0,"y":0.2},{"s":"RR(50)","t":98.014,"y":0.222},{"s":"RR(50)","t":98.036,"y":0.179},{"s":"RR(50)","t":98.05,"y":0.183},{"s":"RR(50)","t":98.065,"y":0.186},{"s":"RR(50)","t":98.083,"y":0.209},{"s":"RR(50)","t":98.097,"y":0.186},{"s":"RR(50)","t":98.115,"y":0.131},{"s":"RR(50)","t":98.133,"y":0.004},{"s":"RR(50)","t":98.147,"y":-0.032},{"s":"RR(50)","t":98.162,"y":-0.012},{"s":"RR(50)","t":98.176,"y":-0.008},{"s":"RR(50)","t":98.198,"y":0.028},{"s":"RR(50)","t":98.212,"y":0.048},{"s":"RR(50)","t":98.226,"y":0.052},{"s":"RR(50)","t":98.241,"y":0.063},{"s":"RR(50)","t":98.248,"y":0.06},{"s":"RR(50)","t":98.262,"y":0.163},{"s":"RR(50)","t":98.277,"y":0.226},{"s":"RR(50)","t":98.302,"y":0.254},{"s":"RR(50)","t":98.312,"y":0.246},{"s":"RR(50)","t":98.327,"y":0.163},{"s":"RR(50)","t":98.341,"y":0.131},{"s":"RR(50)","t":98.359,"y":0.107},{"s":"RR(50)","t":98.377,"y":0.119},{"s":"RR(50)","t":98.392,"y":0.091},{"s":"RR(50)","t":98.42,"y":0.004},{"s":"RR(50)","t":98.442,"y":-0.064},{"s":"RR(50)","t":98.463,"y":-0.004},{"s":"RR(50)","t":98.485,"y":0.099},{"s":"RR(50)","t":98.499,"y":0.135},{"s":"RR(50)","t":98.51,"y":0.139},{"s":"RR(50)","t":98.528,"y":0.163},{"s":"RR(50)","t":98.546,"y":0.159},{"s":"RR(50)","t":98.557,"y":0.194},{"s":"RR(50)","t":98.575,"y":0.25},{"s":"RR(50)","t":98.585,"y":0.246},{"s":"RR(50)","t":98.603,"y":0.202},{"s":"RR(50)","t":98.621,"y":0.115},{"s":"RR(50)","t":98.647,"y":0.028},{"s":"RR(50)","t":98.661,"y":0.0},{"s":"RR(50)","t":98.682,"y":0.044},{"s":"RR(50)","t":98.7,"y":0.004},{"s":"RR(50)","t":98.733,"y":0.0},{"s":"RR(50)","t":98.747,"y":0.044},{"s":"RR(50)","t":98.783,"y":0.218},{"s":"RR(50)","t":98.79,"y":0.24},{"s":"RR(50)","t":98.812,"y":0.198},{"s":"RR(50)","t":98.83,"y":0.194},{"s":"RR(50)","t":98.848,"y":0.163},{"s":"RR(50)","t":98.869,"y":0.175},{"s":"RR(50)","t":98.884,"y":0.139},{"s":"RR(50)","t":98.898,"y":0.067},{"s":"RR(50)","t":98.912,"y":0.012},{"s":"RR(50)","t":98.923,"y":-0.028},{"s":"RR(50)","t":98.948,"y":-0.032},{"s":"RR(50)","t":98.963,"y":-0.012},{"s":"RR(50)","t":98.973,"y":0.044},{"s":"RR(50)","t":98.984,"y":0.075},{"s":"RR(50)","t":99.013,"y":0.083},{"s":"RR(50)","t":99.034,"y":0.103},{"s":"RR(50)","t":99.056,"y":0.198},{"s":"RR(50)","t":99.081,"y":0.27},{"s":"RR(50)","t":99.093,"y":0.266},{"s":"RR(50)","t":99.118,"y":0.155},{"s":"RR(50)","t":99.142,"y":0.079},{"s":"RR(50)","t":99.164,"y":0.075},{"s":"RR(50)","t":99.182,"y":0.048},{"s":"RR(50)","t":99.192,"y":0.044},{"s":"RR(50)","t":99.207,"y":-0.012},{"s":"RR(50)","t":99.221,"y":-0.06},{"s":"RR(50)","t":99.243,"y":0.012},{"s":"RR(50)","t":99.264,"y":0.099},{"s":"RR(50)","t":99.278,"y":0.163},{"s":"RR(50)","t":99.293,"y":0.179},{"s":"RR(50)","t":99.307,"y":0.179},{"s":"RR(50)","t":99.322,"y":0.163},{"s":"RR(50)","t":99.336,"y":0.194},{"s":"RR(50)","t":99.354,"y":0.233},{"s":"RR(50)","t":99.379,"y":0.202},{"s":"RR(50)","t":99.393,"y":0.171},{"s":"RR(50)","t":99.408,"y":0.083},{"s":"RR(50)","t":99.422,"y":0.012},{"s":"RR(50)","t":99.437,"y":-0.012},{"s":"RR(50)","t":99.451,"y":0.02},{"s":"RR(50)","t":99.466,"y":0.028},{"s":"RR(50)","t":99.48,"y":0.02},{"s":"RR(50)","t":99.494,"y":0.028},{"s":"RR(50)","t":99.509,"y":0.036},{"s":"RR(50)","t":99.516,"y":0.02},{"s":"RR(50)","t":99.526,"y":0.004},{"s":"RR(50)","t":99.545,"y":0.131},{"s":"RR(50)","t":99.566,"y":0.226},{"s":"RR(50)","t":99.577,"y":0.242},{"s":"RR(50)","t":99.595,"y":0.222},{"s":"RR(50)","t":99.606,"y":0.222},{"s":"RR(50)","t":99.624,"y":0.163},{"s":"RR(50)","t":99.638,"y":0.135},{"s":"RR(50)","t":99.652,"y":0.155},{"s":"RR(50)","t":99.673,"y":0.099},{"s":"RR(50)","t":99.703,"y":0.004},{"s":"RR(50)","t":99.717,"y":-0.04},{"s":"RR(50)","t":99.735,"y":-0.048},{"s":"RR(50)","t":99.746,"y":-0.028},{"s":"RR(50)","t":99.76,"y":0.044},{"s":"RR(50)","t":99.782,"y":0.083},{"s":"RR(50)","t":99.796,"y":0.131},{"s":"RR(50)","t":99.807,"y":0.127},{"s":"RR(50)","t":99.821,"y":0.147},{"s":"RR(50)","t":99.843,"y":0.202},{"s":"RR(50)","t":99.864,"y":0.262},{"s":"RR(50)","t":99.879,"y":0.234},{"s":"RR(50)","t":99.893,"y":0.179},{"s":"RR(50)","t":99.907,"y":0.147},{"s":"RR(50)","t":99.918,"y":0.091},{"s":"RR(50)","t":99.929,"y":0.04},{"s":"RR(50)","t":99.95,"y":0.053},{"s":"RR(50)","t":99.965,"y":0.04},{"s":"RR(50)","t":99.983,"y":0.02},{"s":"RR(50)","t":100.0,"y":-0.024}
  ]},
  "encoding": {
    "x": {"field": "t", "type": "quantitative", "scale": {"domain": [98, 100], "nice": false, "zero": false}, "axis": {"values": [98, 98.5, 99, 99.5, 100], "format": "~g", "title": "Time", "titleX": 438, "titlePadding": 0}},
    "y": {"field": "y", "type": "quantitative", "scale": {"domain": [-0.1, 0.4], "nice": false}, "axis": {"values": [-0.1, 0, 0.1, 0.2, 0.3, 0.4], "labelExpr": "datum.value < 0 ? '-' + format(-datum.value, '~g') : format(datum.value, '~g')", "title": "Displacement", "grid": true, "gridWidth": 1.3, "gridColor": {"condition": {"test": "datum.value > 0.35", "value": "#8c8c8c"}, "value": "black"}, "gridDash": {"condition": {"test": "datum.value > 0.35", "value": [1, 0]}, "value": [5, 3]}}},
    "strokeDash": {"field": "s", "type": "nominal", "scale": {"domain": ["RR(5)", "RR(15)", "RR(30)", "RR(50)"], "range": [[4, 2], [11, 6], [10, 4, 2, 4], [1, 0]]}, "legend": {"orient": "none", "legendX": 173, "legendY": -18}},
    "strokeWidth": {"field": "s", "type": "nominal", "scale": {"domain": ["RR(5)", "RR(15)", "RR(30)", "RR(50)"], "range": [1.2, 1.3, 1.2, 1.5]}, "legend": null}
  }
}
]
}
